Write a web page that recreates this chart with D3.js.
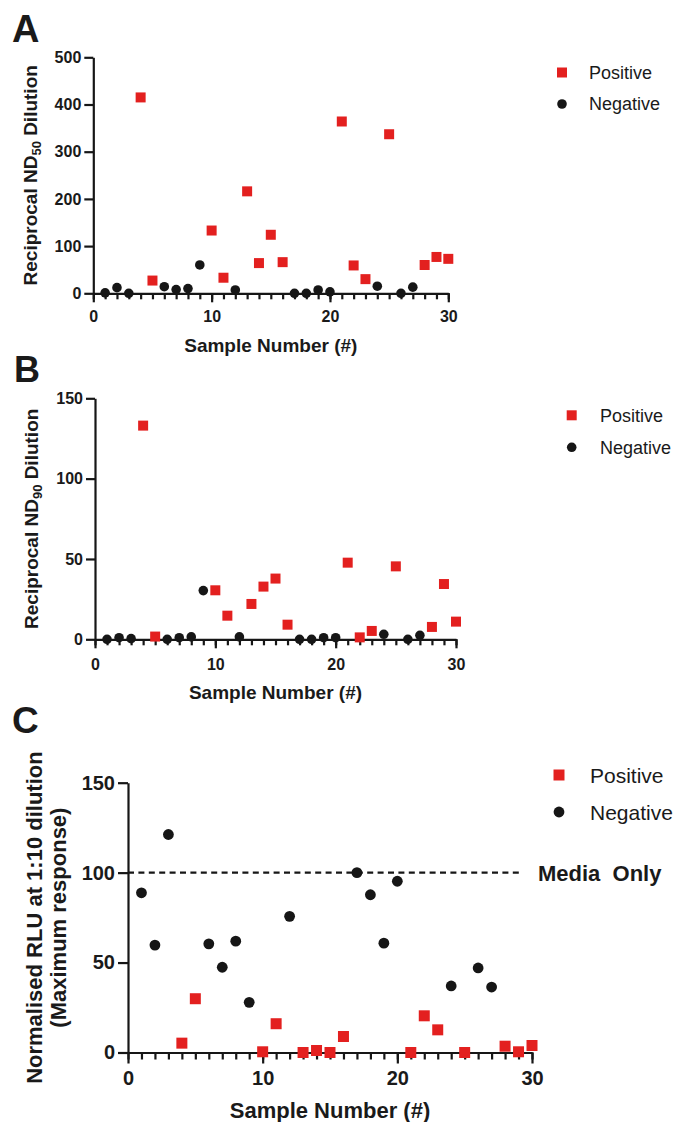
<!DOCTYPE html>
<html lang="en">
<head>
<meta charset="UTF-8">
<title>Neutralisation panels</title>
<style>
body{margin:0;background:#fff;}
text{font-family:Arial,"Liberation Sans",sans-serif;fill:#1a1a1a;}
</style>
</head>
<body>
<script src="https://cdn.jsdelivr.net/npm/d3@7"></script>
<script>
// samples split by group
var posSamples = [4,5,10,11,13,14,15,16,21,22,23,25,28,29,30];
var negSamples = [1,2,3,6,7,8,9,12,17,18,19,20,24,26,27];
// A: reciprocal ND50
var nd50Pos = [415,27,133,33,216,64,124,66,364,59,30,337,60,77,73];
var nd50Neg = [1,12,0,14,8,10,60,7,0,0,7,3,15,0,13];
// B: reciprocal ND90
var nd90Pos = [133,1.7,30.5,14.7,22,32.8,37.8,9.1,47.7,1.2,5.2,45.4,7.7,34.4,11];
var nd90Neg = [0,1,0.4,0,1,1.5,30.3,1.5,0,0,1,1,3.1,0,2.5];
// C: normalised RLU
var rluPos = [5.2,29.9,0.4,16,0,1.1,0,8.9,0,20.4,12.6,0,3.5,0.4,3.9];
var rluNeg = [88.8,59.7,121.2,60.4,47.4,61.9,27.9,75.7,100,87.7,60.8,95.2,37,47,36.4];
var mediaOnly = 100;
var xTicks = [0,10,20,30];
var yTicksA = [0,100,200,300,400,500];
var yTicksB = [0,50,100,150];
var yTicksC = [0,50,100,150];
var legendNames = ["Positive","Negative"];

var RED = "#e3201f", BLACK = "#161616";

var svg = d3.select("body").append("svg")
	.attr("width",676).attr("height",1122);
svg.append("rect").attr("width",676).attr("height",1122).attr("fill","#fff");

function styleAxis(a){
	a.selectAll("path,line").attr("stroke",BLACK).attr("stroke-width",2.2).attr("fill","none");
}

function panel(p){
	var g = svg.append("g");
	var x = d3.scaleLinear().domain([0,30]).range([p.left,p.right]);
	var y = d3.scaleLinear().domain([0,p.ymax]).range([p.bottom,p.top]);

	// minor ticks every sample
	var mi = g.append("g")
		.attr("transform","translate(0,"+p.bottom+")")
		.call(d3.axisBottom(x).tickValues(d3.range(0,31)).tickSize(p.minor).tickFormat(function(){return "";}));
	mi.select(".domain").remove();
	styleAxis(mi);
	var xa = g.append("g")
		.attr("transform","translate(0,"+p.bottom+")")
		.call(d3.axisBottom(x).tickValues(xTicks).tickSize(p.major).tickSizeOuter(0).tickPadding(p.xpad));
	styleAxis(xa);
	xa.selectAll("text").attr("font-size",p.tick).attr("font-weight","bold").attr("fill",BLACK);

	var ya = g.append("g")
		.attr("transform","translate("+p.left+",0)")
		.call(d3.axisLeft(y).tickValues(p.yTicks).tickSize(p.ytick).tickSizeOuter(0).tickPadding(p.ypad));
	styleAxis(ya);
	ya.selectAll("text").attr("font-size",p.tick).attr("font-weight","bold").attr("fill",BLACK);

	if(p.ref!=null){
		g.append("line").attr("x1",p.left).attr("x2",p.refEnd)
			.attr("y1",y(p.ref)).attr("y2",y(p.ref))
			.attr("stroke",BLACK).attr("stroke-width",2.2).attr("stroke-dasharray","6,4.4");
		g.append("text").attr("x",p.refEnd+15).attr("y",y(p.ref)+8)
			.attr("font-size",22).attr("font-weight","bold").attr("xml:space","preserve")
			.text("Media  Only");
	}

	// points
	var sq = d3.symbol().type(d3.symbolSquare).size(p.sq*p.sq);
	var ci = d3.symbol().type(d3.symbolCircle).size(Math.PI*p.r*p.r);
	g.selectAll(".neg").data(negSamples).enter().append("path")
		.attr("d",ci).attr("fill",BLACK)
		.attr("transform",function(d,i){return "translate("+x(d)+","+y(p.neg[i])+")";});
	g.selectAll(".pos").data(posSamples).enter().append("path")
		.attr("d",sq).attr("fill",RED)
		.attr("transform",function(d,i){return "translate("+x(d)+","+y(p.pos[i])+")";});

	// axis titles
	g.append("text").attr("x",(p.left+p.right)/2).attr("y",p.xtitleY)
		.attr("text-anchor","middle").attr("font-size",p.title).attr("font-weight","bold")
		.text("Sample Number (#)");
	var cy = (p.top+p.bottom)/2;
	p.ytitle(g,cy);

	// legend
	var lg = g.append("g");
	lg.append("path").attr("d",sq).attr("fill",RED)
		.attr("transform","translate("+p.lx+","+p.ly[0]+")");
	lg.append("path").attr("d",ci).attr("fill",BLACK)
		.attr("transform","translate("+p.lx+","+p.ly[1]+")");
	legendNames.forEach(function(n,i){
		lg.append("text").attr("x",p.ltx).attr("y",p.ly[i]+p.lfont*0.36)
			.attr("font-size",p.lfont).text(n);
	});

	// panel letter
	g.append("text").attr("x",p.letterX).attr("y",p.letterY)
		.attr("font-size",p.letterSize).attr("font-weight","bold")
		.attr("font-family",p.letterFont||null).text(p.letter);
}

function ndTitle(sub,bx){
	return function(g,cy){
		var t = g.append("text").attr("transform","translate("+bx+","+cy+") rotate(-90)")
			.attr("text-anchor","middle").attr("font-size",19).attr("font-weight","bold");
		t.append("tspan").text("Reciprocal ND");
		t.append("tspan").attr("font-size",13).attr("dy",4).text(sub);
		t.append("tspan").attr("dy",-4).text(" Dilution");
	};
}

panel({letter:"A",letterX:12,letterY:42,letterSize:38,
	left:93.3,right:448.3,top:57.3,bottom:293.3,ymax:500,yTicks:yTicksA,
	pos:nd50Pos,neg:nd50Neg,
	tick:16,title:19,major:9,minor:6,xpad:8,ytick:9,ypad:3,xtitleY:352,
	ytitle:ndTitle("50",37),
	sq:10,r:4.8,lx:562,ly:[72.5,104],ltx:589,lfont:18});

panel({letter:"B",letterX:14,letterY:382,letterSize:36,
	left:95,right:456,top:398.3,bottom:639.3,ymax:150,yTicks:yTicksB,
	pos:nd90Pos,neg:nd90Neg,
	tick:16,title:19,major:9,minor:6,xpad:10,ytick:9,ypad:3,xtitleY:699,
	ytitle:ndTitle("90",38),
	sq:10,r:4.8,lx:571.7,ly:[415.3,447.3],ltx:600,lfont:18});

panel({letter:"C",letterX:12,letterY:733,letterSize:37,letterFont:"'Open Sans',sans-serif",
	left:128,right:532,top:782.7,bottom:1052.5,ymax:150,yTicks:yTicksC,
	pos:rluPos,neg:rluNeg,ref:mediaOnly,refEnd:523,
	tick:20,title:22,major:11,minor:7,xpad:7,ytick:10,ypad:3,xtitleY:1117.5,
	ytitle:function(g,cy){
		g.append("text").attr("transform","translate(42,"+cy+") rotate(-90)")
			.attr("text-anchor","middle").attr("font-size",22).attr("font-weight","bold")
			.text("Normalised RLU at 1:10 dilution");
		g.append("text").attr("transform","translate(66,"+cy+") rotate(-90)")
			.attr("text-anchor","middle").attr("font-size",22).attr("font-weight","bold")
			.text("(Maximum response)");
	},
	sq:11,r:5.4,lx:559,ly:[775,812],ltx:590,lfont:21});
</script>
</body>
</html>
